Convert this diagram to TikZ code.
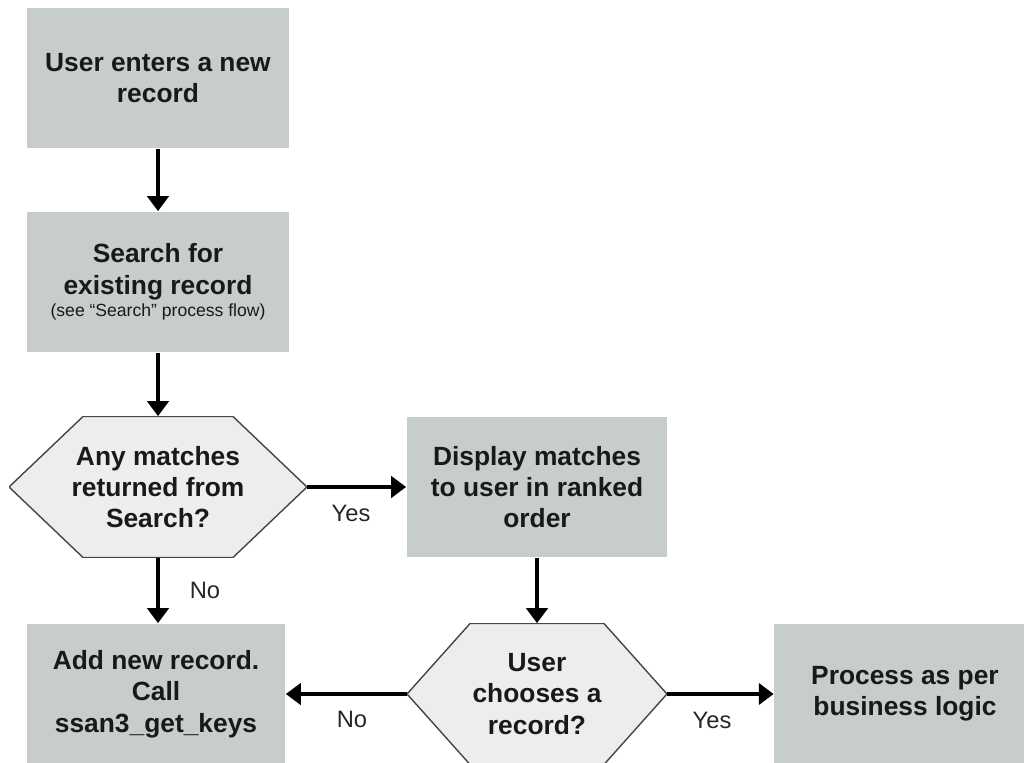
\documentclass[tikz,border=0pt]{standalone}
\usepackage{fontspec}
\setmainfont{Liberation Sans}
\usetikzlibrary{arrows.meta}

\definecolor{boxgray}{RGB}{199,204,204}
\definecolor{hexgray}{RGB}{236,237,237}
\definecolor{hexline}{RGB}{70,70,70}

\tikzset{
  procbox/.style={rectangle, fill=boxgray, minimum width=5.24cm, minimum height=2.82cm,
    align=center, text=black!90, font=\fontsize{15}{17.8}\selectfont\bfseries},
  decision/.style={rectangle, minimum height=2.82cm, inner sep=0pt, align=center, text=black!90,
    font=\fontsize{15}{17.8}\selectfont\bfseries,
    path picture={
      \draw[fill=hexgray, draw=hexline, line width=0.8pt]
        (path picture bounding box.west)
        -- ([xshift=#1]path picture bounding box.north west)
        -- ([xshift=-#1]path picture bounding box.north east)
        -- (path picture bounding box.east)
        -- ([xshift=-#1]path picture bounding box.south east)
        -- ([xshift=#1]path picture bounding box.south west) -- cycle;}},
  flow/.style={-{Triangle[length=8.5pt,width=12pt]}, line width=2.6pt},
  answer/.style={font=\fontsize{13.5}{16}\selectfont, text=black!85}
}

\begin{document}
\begin{tikzpicture}[x=0.02cm, y=-0.02cm]
                \useasboundingbox (0,0) rectangle (1024,763);
                \clip (0,0) rectangle (1024,763);
                % Steps and decisions:
                \node[procbox] (enter) at (158, 78) {User enters a new\\record};
                \node[procbox] (search) at (158, 282) {Search for\\existing record\\[-5pt]{\fontsize{10}{12}\selectfont\mdseries (see “Search” process flow)}};
                \node[decision=1.48cm, minimum width=5.96cm] (anymatch) at (158, 487) {Any matches\\returned from\\Search?};
                \node[procbox, minimum width=5.22cm] (display) at (537, 487) {Display matches\\to user in ranked\\order};
                \node[procbox, minimum width=5.18cm] (addrec) at (156, 694) {Add new record.\\Call\\ssan3\_get\_keys};
                \node[decision=1.26cm, minimum width=5.2cm] (choose) at (537, 694) {User\\chooses a\\record?};
                \node[procbox] (process) at (905, 694) {Process as per\\business logic};
                % Connectors:
                \draw[flow] (enter) -- (search);
                \draw[flow] (search) -- (anymatch);
                \draw[flow] (anymatch.east) -- (display.west);
                \draw[flow] (anymatch.south) -- (anymatch.south |- addrec.north);
                \draw[flow] (display) -- (choose);
                \draw[flow] (choose.west) -- (addrec.east);
                \draw[flow] (choose.east) -- (process.west);
                % Labels:
                \node[answer] (yes1) at (351, 513) {Yes};
                \node[answer] (no1) at (205, 590) {No};
                \node[answer] (no2) at (352, 719) {No};
                \node[answer] (yes2) at (712, 720) {Yes};
            \end{tikzpicture}
\end{document}
